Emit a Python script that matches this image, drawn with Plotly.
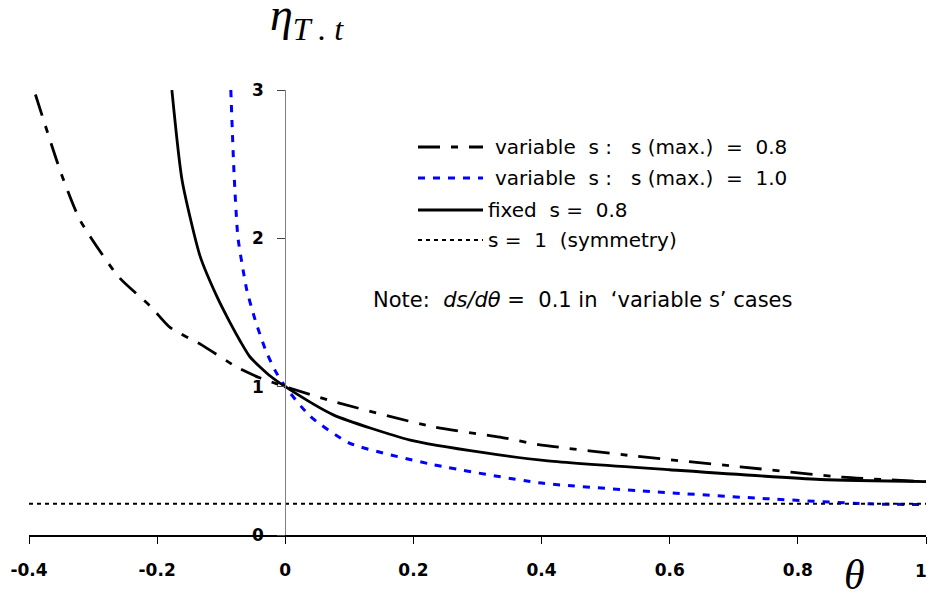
import plotly.graph_objects as go

# ---- data ----
var08_x = [-0.39, -0.35, -0.32, -0.26, -0.21, -0.18, -0.13, -0.075, -0.04, 0.0, 0.075, 0.23, 0.335, 0.395, 0.55, 0.71, 0.87, 1.0]
var08_y = [2.97, 2.44, 2.12, 1.74, 1.54, 1.40, 1.28, 1.13, 1.06, 1.0, 0.90, 0.73, 0.66, 0.61, 0.53, 0.46, 0.39, 0.36]

var10_x = [-0.085, -0.08, -0.074, -0.066, -0.06, -0.047, -0.031, -0.016, 0.0, 0.039, 0.1, 0.23, 0.4, 0.6, 0.75, 0.91, 1.0]
var10_y = [3.0, 2.44, 2.01, 1.79, 1.65, 1.45, 1.25, 1.11, 1.0, 0.80, 0.62, 0.475, 0.35, 0.285, 0.245, 0.21, 0.205]

fixed_x = [-0.177, -0.161, -0.133, -0.107, -0.086, -0.07, -0.055, -0.023, 0.0, 0.075, 0.195, 0.31, 0.41, 0.6, 0.835, 1.0]
fixed_y = [3.0, 2.39, 1.88, 1.61, 1.43, 1.305, 1.20, 1.07, 1.0, 0.81, 0.64, 0.555, 0.50, 0.44, 0.374, 0.36]

sym_x = [-0.4, 1.0]
sym_y = [0.21, 0.21]

NB = "\u00a0"
x_ticks = [-0.4, -0.2, 0, 0.2, 0.4, 0.6, 0.8, 1]
x_tick_labels = ["-0.4", "-0.2", "0", "0.2", "0.4", "0.6", "0.8", "1"]
y_ticks = [0, 1, 2, 3]
y_tick_labels = ["0", "1", "2", "3"]

legend_names = [
    f"variable{NB}{NB}s{NB}:{NB}{NB}{NB}s{NB}(max.){NB}{NB}={NB}{NB}0.8",
    f"variable{NB}{NB}s{NB}:{NB}{NB}{NB}s{NB}(max.){NB}{NB}={NB}{NB}1.0",
    f"fixed{NB}{NB}s{NB}={NB}{NB}0.8",
    f"s{NB}={NB}{NB}1{NB}{NB}(symmetry)",
]
note_text = f"Note:{NB}{NB}<i>ds/dθ</i>{NB}={NB}{NB}0.1{NB}in{NB}{NB}‘variable{NB}s’{NB}cases"

# ---- styles ----
W, H = 929, 597
L, R, T, B = 29, 3, 90, 62
DASHDOT = "22px,11px,7px,11px"
BLUEDASH = "7px,8px"
DOT = "4px,4px"
styles = [
    dict(color="black", width=2.8, dash=DASHDOT),
    dict(color="#0000ff", width=3, dash=BLUEDASH),
    dict(color="black", width=2.8, dash="solid"),
    dict(color="black", width=2, dash=DOT),
]
FONT = "DejaVu Sans, Arial"

fig = go.Figure()
series = [(var08_x, var08_y), (var10_x, var10_y), (fixed_x, fixed_y), (sym_x, sym_y)]
for (xs, ys), st, nm in zip(series, styles, legend_names):
    fig.add_trace(go.Scatter(x=xs, y=ys, mode="lines", name=nm, showlegend=False,
                             line=dict(color=st["color"], width=st["width"], dash=st["dash"],
                                       shape="spline", smoothing=0.6)))

def px2paper_x(px):
    return (px - L) / (W - L - R)

def px2paper_y(py):
    return (H - B - py) / (H - T - B)

# manual legend
rows_y = [147, 178, 210, 240]
text_x = [493, 493, 486, 486]
shapes = []
annotations = []
for i, (ry, st, nm) in enumerate(zip(rows_y, styles, legend_names)):
    shapes.append(dict(type="line", xref="paper", yref="paper",
                       x0=px2paper_x(418), x1=px2paper_x(483),
                       y0=px2paper_y(ry), y1=px2paper_y(ry),
                       line=dict(color=st["color"], width=st["width"], dash=st["dash"])))
    annotations.append(dict(xref="paper", yref="paper", x=px2paper_x(text_x[i]), y=px2paper_y(ry),
                            xanchor="left", yanchor="middle", showarrow=False, text=nm,
                            font=dict(family=FONT, size=20, color="black")))

annotations.append(dict(xref="paper", yref="paper", x=px2paper_x(371), y=px2paper_y(300),
                        xanchor="left", yanchor="middle", showarrow=False,
                        text=note_text,
                        font=dict(family=FONT, size=21, color="black")))
annotations.append(dict(xref="paper", yref="paper", x=px2paper_x(268), y=px2paper_y(18),
                        xanchor="left", yanchor="middle", showarrow=False,
                        text="<i>η</i><sub><i>T . t</i></sub>",
                        font=dict(family="Liberation Serif, Times New Roman", size=46, color="black")))
annotations.append(dict(xref="paper", yref="paper", x=px2paper_x(854), y=px2paper_y(575),
                        xanchor="center", yanchor="middle", showarrow=False,
                        text="<i>θ</i>",
                        font=dict(family="Liberation Serif, Times New Roman", size=42, color="black")))

tickfont = dict(family=FONT, size=17, color="black", weight="bold")

# last x tick label drawn right-aligned at its tick so it stays inside the page
annotations.append(dict(xref="x", yref="paper", x=x_ticks[-1], y=px2paper_y(571),
                        xanchor="right", yanchor="middle", xshift=3, showarrow=False,
                        text=x_tick_labels[-1], font=tickfont))
axis_ticktext = x_tick_labels[:-1] + [""]

fig.update_layout(
    width=W, height=H,
    margin=dict(l=L, r=R, t=T, b=B, pad=0),
    paper_bgcolor="white", plot_bgcolor="white",
    shapes=shapes, annotations=annotations,
    xaxis=dict(range=[-0.4, 1.0], tickvals=x_ticks, ticktext=axis_ticktext,
               showgrid=False, zeroline=False, showline=True, linecolor="black", linewidth=1.5,
               ticks="outside", ticklen=7, tickwidth=1.2, tickcolor="black",
               tickfont=tickfont, ticklabelstandoff=12, automargin=False),
    yaxis=dict(range=[0, 3.0], tickvals=y_ticks, ticktext=y_tick_labels,
               anchor="free", position=0.4 / 1.4,
               showgrid=False, zeroline=False, showline=True, linecolor="#808080", linewidth=1.2,
               ticks="outside", ticklen=8, tickwidth=1.2, tickcolor="#444444",
               tickfont=tickfont, ticklabelstandoff=10, automargin=False),
)

fig.write_html("out.html", config={"displayModeBar": False},
               post_script="document.body.style.margin='0';document.body.style.overflow='hidden';")
